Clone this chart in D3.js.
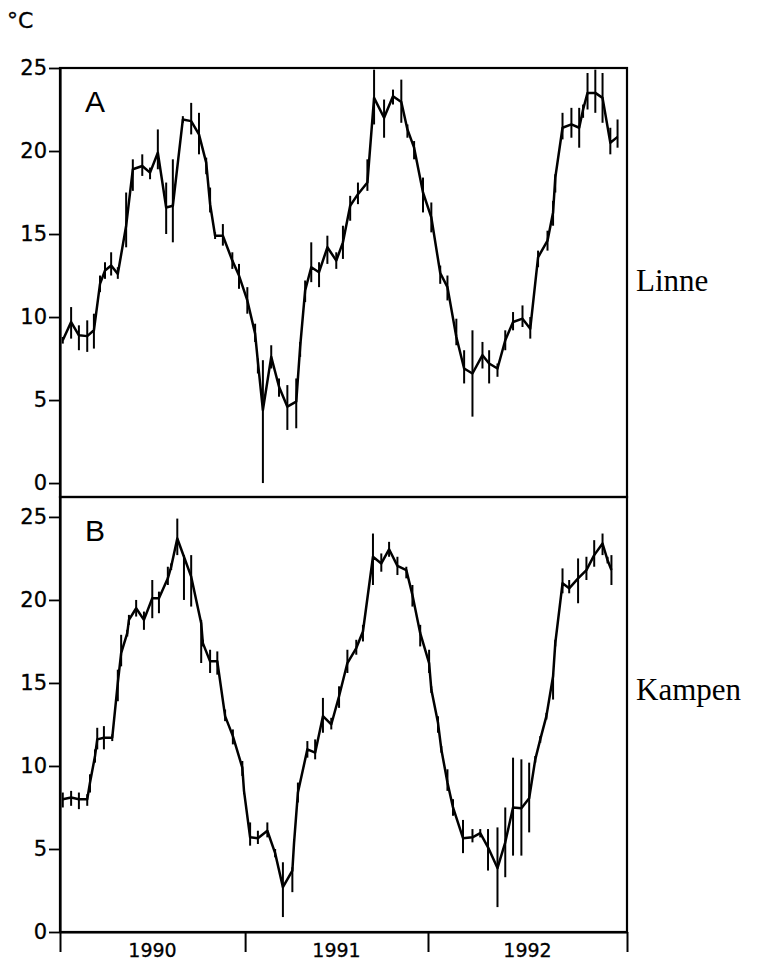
<!DOCTYPE html>
<html>
<head>
<meta charset="utf-8">
<script src="https://cdn.jsdelivr.net/npm/d3@7"></script>
<style>
body{margin:0;background:#fff;}
</style>
</head>
<body>
<div id="chart"></div>
<script>
// days from start of sampling (tick at 0), mean water temp and min/max bar
var linneDay=[5,20,34,49,61,72,81,92,104,119,131,148,162,176,191,203,221,236,250,263,270,279,293,310,322,337,351,356,365,380,394,409,425,432,441,452,466,481,497,509,522,536,553,565,583,599,614,625,637,653,668,684,697,713,727,742,760,772,787,801,815,832,846,860,877,887,891,904,920,934,941,949,963,976,990,1003];
var linneMean=[8.6,9.7,8.9,8.85,9.2,12.0,12.8,13.1,12.6,15.5,18.9,19.1,18.7,19.9,16.6,16.7,21.9,21.8,21.0,19.3,16.8,14.9,14.9,13.4,12.5,11.0,9.0,7.3,4.4,7.6,5.8,4.6,4.9,8.2,11.6,13.0,12.7,14.2,13.4,14.5,16.7,17.4,18.1,23.2,22.0,23.3,22.95,21.3,20.2,17.5,16.0,12.65,11.8,8.8,6.9,6.6,7.7,7.2,6.9,8.6,9.7,9.9,9.3,13.6,14.6,16.3,18.4,21.4,21.6,21.4,22.5,23.5,23.5,23.2,20.5,20.85];
var linneLo=[8.4,8.7,8.0,7.9,8.1,11.5,12.3,12.5,12.3,14.2,17.6,18.5,18.3,18.9,15.0,14.5,21.7,21.0,19.8,18.6,16.3,14.7,14.3,12.9,11.7,10.2,8.5,6.6,0.0,6.9,5.2,3.2,3.3,7.6,10.9,12.1,11.8,13.2,12.9,13.5,15.8,16.8,17.6,21.6,20.8,22.8,21.7,20.8,19.5,16.3,15.1,12.0,11.0,8.3,6.0,4.0,6.9,6.0,6.4,8.0,9.2,9.4,8.7,13.0,14.0,15.5,17.5,20.7,20.8,20.2,22.0,22.5,22.3,21.7,19.8,20.2];
var linneHi=[8.8,10.6,9.5,9.8,10.2,12.5,13.3,13.9,13.0,17.5,19.5,19.8,19.0,21.3,18.1,19.5,22.1,22.9,22.3,19.6,17.8,15.1,15.6,13.9,13.2,11.8,9.6,7.5,7.4,8.3,6.3,5.9,6.3,8.5,12.2,14.5,13.3,14.9,13.9,15.5,17.3,18.1,19.5,24.9,23.1,23.7,24.3,21.6,20.6,18.4,16.9,13.1,12.5,9.9,8.0,9.2,8.5,8.0,7.2,9.2,10.3,10.7,10.0,14.0,15.2,17.0,18.6,22.3,22.6,22.6,22.8,24.7,24.9,24.7,21.4,21.9];

var kampenDay=[5,20,34,49,54,63,67,79,94,104,110,121,124,137,151,166,178,194,200,211,223,236,254,257,270,283,297,311,328,331,342,356,373,387,401,418,421,428,445,459,473,488,502,517,533,545,563,578,592,607,623,634,648,664,668,680,686,697,707,725,742,756,770,787,801,815,830,844,855,864,875,887,891,904,916,932,947,961,976,985,992];
var kampenMean=[8.0,8.1,8.0,8.0,9.0,10.6,11.6,11.7,11.7,15.0,16.8,18.0,18.8,19.5,18.8,20.1,20.1,21.3,22.0,23.7,22.6,21.4,18.6,17.4,16.3,16.3,13.0,11.8,9.9,8.5,5.7,5.65,6.1,4.75,2.7,3.7,5.35,8.4,11.0,10.8,13.0,12.5,14.2,16.2,17.1,18.1,22.6,22.2,23.05,22.05,21.8,20.3,18.0,16.2,14.6,12.6,11.0,9.0,7.5,5.65,5.7,5.95,5.1,3.85,5.4,7.5,7.45,8.05,10.4,11.6,13.0,15.4,17.4,21.0,20.7,21.3,21.8,22.7,23.4,22.4,21.8];
var kampenLo=[7.5,7.6,7.4,7.6,8.4,10.2,11.0,11.0,11.5,13.9,16.0,17.8,18.5,19.0,18.2,18.9,19.2,20.9,21.8,22.7,20.0,19.6,16.2,17.2,15.6,15.5,12.7,11.3,9.4,8.3,5.2,5.3,5.7,4.5,0.9,2.4,5.1,7.8,10.5,10.4,12.0,12.2,13.5,15.6,16.7,17.5,20.9,21.7,22.6,21.5,21.3,19.6,17.2,15.6,14.4,12.0,10.8,8.5,7.0,4.75,5.4,5.7,3.7,1.5,3.3,4.6,4.6,6.0,10.2,11.4,12.8,14.0,17.2,20.4,20.4,19.8,21.2,22.0,22.7,22.2,20.9];
var kampenHi=[8.4,8.5,8.4,8.3,9.5,11.0,12.3,12.4,11.9,15.8,17.9,18.2,19.1,20.0,19.3,21.2,20.5,22.0,22.2,24.9,22.7,22.7,18.8,17.6,17.0,16.9,13.4,12.2,10.3,8.7,6.6,6.1,6.6,5.0,4.2,3.9,5.6,9.0,11.5,11.6,14.1,12.9,14.8,17.0,17.6,18.5,24.0,22.8,23.5,22.6,22.0,20.9,18.5,17.0,14.8,13.0,11.2,9.8,8.0,6.75,6.2,6.2,6.2,6.3,7.5,10.5,10.4,10.2,10.6,11.8,13.2,15.6,17.6,21.9,21.2,22.5,22.6,23.6,24.0,22.6,22.7];

var yTicks=[0,5,10,15,20,25];
var yearTicks=[0,333,662,1020];
var yearLabels=['1990','1991','1992'];
var panelLetters=['A','B'];
var siteNames=['Linne','Kampen'];

var sans='"DejaVu Sans", Verdana, sans-serif';

var svg=d3.select('#chart').append('svg')
	.attr('width',778).attr('height',960)
	.attr('font-family',sans);

var x=d3.scaleLinear().domain([0,1020]).range([60,627]);
var yA=d3.scaleLinear().domain([-0.84,25]).range([497,68]);
var yB=d3.scaleLinear().domain([0,26.2]).range([932,497]);

function drawPanel(y,day,mean,lo,hi,letter,name,nameY){
	var g=svg.append('g');
	var idx=d3.range(day.length);

	// frame (top and right)
	g.append('rect')
		.attr('x',x.range()[0]).attr('y',y.range()[1])
		.attr('width',x.range()[1]-x.range()[0])
		.attr('height',y.range()[0]-y.range()[1])
		.attr('fill','none').attr('stroke','#000').attr('stroke-width',2.2);

	var ax=g.append('g')
		.attr('transform','translate('+x.range()[0]+',0)')
		.call(d3.axisLeft(y).tickValues(yTicks).tickSize(11).tickSizeOuter(0).tickPadding(2));
	ax.select('.domain').attr('stroke-width',2.2);
	ax.selectAll('.tick line').attr('stroke-width',1.8);
	ax.selectAll('.tick text')
		.attr('font-size',21).attr('fill','#000')
		.attr('font-family',sans)
		.attr('stroke','#000').attr('stroke-width',0.3);

	// min-max bars
	g.selectAll('line.bar').data(idx).enter().append('line')
		.attr('class','bar')
		.attr('x1',function(i){return x(day[i]);})
		.attr('x2',function(i){return x(day[i]);})
		.attr('y1',function(i){return y(lo[i]);})
		.attr('y2',function(i){return y(hi[i]);})
		.attr('stroke','#000').attr('stroke-width',2);

	var line=d3.line()
		.x(function(i){return x(day[i]);})
		.y(function(i){return y(mean[i]);});
	g.append('path').datum(idx)
		.attr('d',line)
		.attr('fill','none').attr('stroke','#000')
		.attr('stroke-width',2.5).attr('stroke-linejoin','round');

	g.append('text').text(letter)
		.attr('x',85).attr('y',y.range()[1]+44)
		.attr('font-size',30)
		.attr('font-family','"Liberation Sans", Arial, sans-serif');

	g.append('text').text(name)
		.attr('x',636).attr('y',nameY)
		.attr('font-size',31)
		.attr('font-family','"Liberation Serif", "Times New Roman", serif');
}

drawPanel(yA,linneDay,linneMean,linneLo,linneHi,panelLetters[0],siteNames[0],291);
drawPanel(yB,kampenDay,kampenMean,kampenLo,kampenHi,panelLetters[1],siteNames[1],700);

// year axis
var xa=svg.append('g')
	.attr('transform','translate(0,'+yB.range()[0]+')')
	.call(d3.axisBottom(x).tickValues(yearTicks).tickFormat('').tickSize(20).tickSizeOuter(0));
xa.select('.domain').attr('stroke-width',2.2);
xa.selectAll('.tick line').attr('stroke-width',2);

svg.selectAll('text.year').data(yearLabels).enter().append('text')
	.attr('class','year')
	.attr('x',function(d,i){return x((yearTicks[i]+yearTicks[i+1])/2);})
	.attr('y',957)
	.attr('text-anchor','middle')
	.attr('font-size',19)
	.attr('stroke','#000').attr('stroke-width',0.3)
	.text(function(d){return d;});

svg.append('text').text('°C')
	.attr('x',7).attr('y',28)
	.attr('font-size',22)
	.attr('stroke','#000').attr('stroke-width',0.3);
</script>
</body>
</html>
